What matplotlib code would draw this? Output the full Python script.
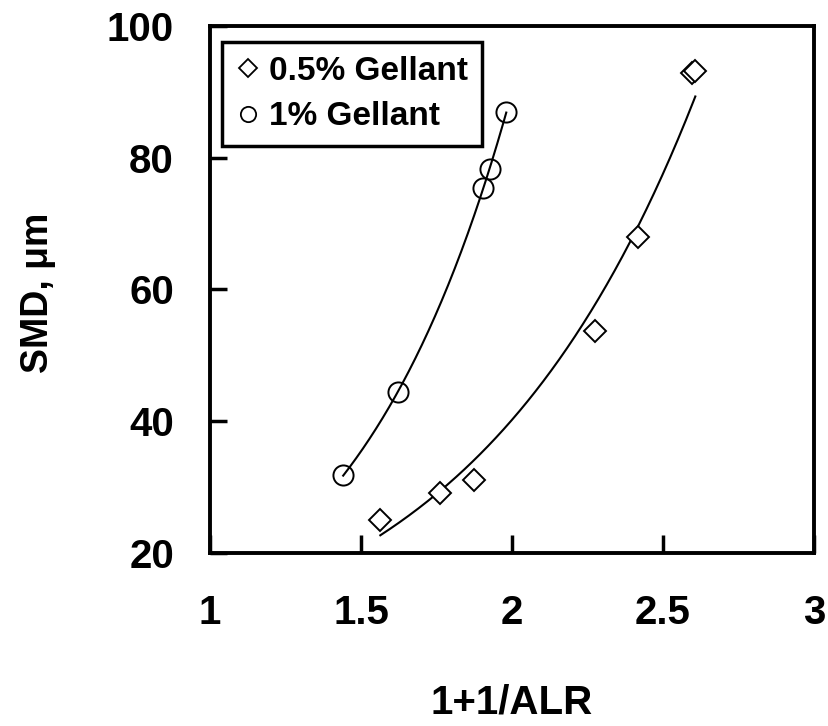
import numpy as np
import matplotlib
matplotlib.use("Agg")
import matplotlib.pyplot as plt
from matplotlib.lines import Line2D

# Measured droplet size (SMD) versus 1 + 1/ALR for two gellant loadings
alr_05 = [1.564, 1.760, 1.873, 2.275, 2.416, 2.596, 2.607]
smd_05 = [24.9, 29.1, 31.1, 53.7, 67.9, 92.8, 93.2]
alr_1 = [1.441, 1.624, 1.904, 1.926, 1.981]
smd_1 = [31.8, 44.4, 75.4, 78.3, 86.9]

series_labels = ["0.5% Gellant", "1% Gellant"]
x_ticks = [1, 1.5, 2, 2.5, 3]
x_tick_labels = ["1", "1.5", "2", "2.5", "3"]
y_ticks = [20, 40, 60, 80, 100]
y_tick_labels = ["20", "40", "60", "80", "100"]

FONT = "Liberation Sans"


def exp_trend(x, y, n=200):
    """Least-squares exponential trendline over the span of the data."""
    b, ln_a = np.polyfit(np.asarray(x), np.log(np.asarray(y)), 1)
    xs = np.linspace(min(x), max(x), n)
    return xs, np.exp(ln_a + b * xs)


W, H = 829, 726
fig = plt.figure(figsize=(W / 100, H / 100), dpi=100)
left, right, top, bottom = 210, 814, 26, 552.7
ax = fig.add_axes([left / W, 1 - bottom / H, (right - left) / W, (bottom - top) / H])

# trendlines
for x, y in ((alr_05, smd_05), (alr_1, smd_1)):
    xs, ys = exp_trend(x, y)
    ax.plot(xs, ys, color="black", lw=1.5, zorder=2)

# data points
ax.plot(alr_05, smd_05, linestyle="none", marker="D", ms=11, mfc="white",
        mec="black", mew=1.4, zorder=3)
ax.plot(alr_1, smd_1, linestyle="none", marker="o", ms=14.5, mfc="none",
        mec="black", mew=1.4, zorder=3)

tick_font = {"family": FONT, "weight": "bold", "size": 29}
ax.set_xlim(1, 3)
ax.set_ylim(20, 100)
ax.set_xticks(x_ticks)
ax.set_xticklabels(x_tick_labels, fontdict=tick_font)
ax.set_yticks(y_ticks)
ax.set_yticklabels(y_tick_labels, fontdict=tick_font)
ax.tick_params(axis="x", direction="in", length=13, width=2.5, pad=30)
ax.tick_params(axis="y", direction="in", length=12, width=2.5, pad=26)
for s in ax.spines.values():
    s.set_linewidth(2.8)

fig.text((left + right) / 2 / W, 1 - 702 / H, "1+1/ALR", ha="center", va="center",
         fontdict=tick_font)
fig.text(38 / W, 1 - 293 / H, "SMD, \u03bcm", ha="center", va="center",
         rotation=90, fontdict={"family": FONT, "weight": "bold", "size": 27})

handles = [
    Line2D([], [], linestyle="none", marker="D", ms=9, mfc="white", mec="black", mew=1.3),
    Line2D([], [], linestyle="none", marker="o", ms=11, mfc="white", mec="black", mew=1.3),
]
leg = ax.legend(handles, series_labels, loc="upper left", bbox_to_anchor=(0.0194, 0.970),
                fancybox=False, framealpha=1, edgecolor="black", handlelength=0.74,
                handletextpad=0.25, borderpad=0.42, labelspacing=0.44, borderaxespad=0,
                prop={"family": FONT, "weight": "bold", "size": 24})
leg.get_frame().set_linewidth(2.5)

fig.savefig("out.png", dpi=100)
